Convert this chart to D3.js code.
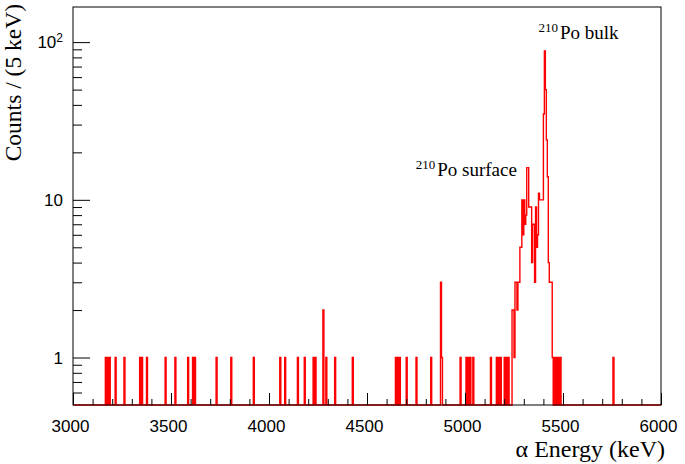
<!DOCTYPE html>
<html>
<head>
<meta charset="utf-8">
<script src="https://cdn.jsdelivr.net/npm/d3@7"></script>
<style>
  html, body { margin: 0; padding: 0; background: #fff; }
  svg { display: block; }
</style>
</head>
<body>
<svg id="chart" width="685" height="464"></svg>
<script>
// ---- data (bin low edges in keV, 5 keV bins; counts) ----
const binWidth = 5;
const xRangeKeV = [3000, 6000];
const yRangeCounts = [0.5, 167];
const binStarts = [
  3165, 3175, 3185, 3215, 3260, 3340, 3350, 3375, 3470, 3520,
  3585, 3610, 3620, 3730, 3805, 3920, 4055, 4080, 4145, 4180,
  4225, 4235, 4275, 4290, 4335, 4425, 4645, 4655, 4665, 4700,
  4750, 4825, 4875, 4880, 4975, 5005, 5015, 5025, 5040, 5130,
  5160, 5170, 5180, 5200, 5210, 5220,
  5240, 5245, 5250, 5255, 5260, 5265, 5270, 5275, 5280, 5285,
  5290, 5295, 5300, 5305, 5310, 5315, 5320, 5325, 5330, 5335,
  5340, 5345, 5350, 5355, 5360, 5365, 5370, 5375, 5380, 5385,
  5390, 5395, 5400, 5405, 5410, 5415, 5420, 5425, 5430, 5435,
  5440, 5445, 5455, 5465, 5475, 5485, 5755
];
const binCounts = [
  1, 1, 1, 1, 1, 1, 1, 1, 1, 1,
  1, 1, 1, 1, 1, 1, 1, 1, 1, 1,
  1, 1, 2, 1, 1, 1, 1, 1, 1, 1,
  1, 1, 3, 1, 1, 1, 1, 1, 1, 1,
  1, 1, 1, 1, 1, 1,
  2, 2, 1, 3, 3, 2, 3, 3, 5, 5,
  10, 6, 10, 7, 8, 16, 16, 9, 9, 9,
  4, 7, 7, 3, 9, 5, 6, 11, 10, 10,
  10, 10, 35, 88, 50, 24, 14, 4, 3, 3,
  3, 1, 1, 1, 1, 1, 1
];
const xTickValues = [3000, 3500, 4000, 4500, 5000, 5500, 6000];
const yMajorTicks = [1, 10, 100];
const yMinorTicks = [0.6, 0.7, 0.8, 0.9, 2, 3, 4, 5, 6, 7, 8, 9, 20, 30, 40, 50, 60, 70, 80, 90];
const xTitle = "α Energy (keV)";
const yTitle = "Counts / (5 keV)";
const annotations = [
  { sup: "210", text: "Po bulk", energy: 5405 },
  { sup: "210", text: "Po surface", energy: 5320 }
];

// ---- layout ----
const svg = d3.select("#chart");
const frame = { left: 73, right: 661, top: 7, bottom: 405 };

const x = d3.scaleLinear().domain(xRangeKeV).range([frame.left, frame.right]);
const y = d3.scaleLog().domain(yRangeCounts).range([frame.bottom, frame.top]);

// full histogram table from sparse data
const nBins = (xRangeKeV[1] - xRangeKeV[0]) / binWidth;
const countByBin = new Map(binStarts.map((s, i) => [s, binCounts[i]]));
const pts = [];
for (let i = 0; i < nBins; i++) {
  const lo = xRangeKeV[0] + i * binWidth;
  const c = countByBin.get(lo) || 0;
  const yy = c > 0 ? y(Math.max(c, yRangeCounts[0])) : y(yRangeCounts[0]);
  pts.push([x(lo), yy]);
  pts.push([x(lo + binWidth), yy]);
}

// histogram
svg.append("path")
  .attr("d", d3.line()(pts))
  .attr("fill", "none")
  .attr("stroke", "#ff0000")
  .attr("stroke-width", 1.4);

// frame
svg.append("rect")
  .attr("x", frame.left).attr("y", frame.top)
  .attr("width", frame.right - frame.left)
  .attr("height", frame.bottom - frame.top)
  .attr("fill", "none").attr("stroke", "#000").attr("stroke-width", 1);

// x axis (ticks inside)
const xMinor = d3.range(3100, 6000, 100).filter(v => v % 500 !== 0);
const xAxis = d3.axisBottom(x).tickValues(xTickValues).tickSize(-12).tickFormat(d3.format("d")).tickPadding(12);
const gx = svg.append("g").attr("transform", `translate(0,${frame.bottom})`).call(xAxis);
gx.select(".domain").remove();
gx.selectAll("text").attr("font-family", "'Liberation Sans', Arial, sans-serif").attr("font-size", 17).attr("fill", "#000").attr("dx", -3).attr("dy", "0.9em");
gx.selectAll("line").attr("stroke", "#000");
const xAxisMinor = d3.axisBottom(x).tickValues(xMinor).tickSize(-6).tickFormat("");
const gxm = svg.append("g").attr("transform", `translate(0,${frame.bottom})`).call(xAxisMinor);
gxm.select(".domain").remove();
gxm.selectAll("line").attr("stroke", "#000");

// y axis (ticks inside)
const yAxis = d3.axisLeft(y).tickValues(yMajorTicks).tickSize(-17).tickFormat("").tickPadding(0);
const gy = svg.append("g").attr("transform", `translate(${frame.left},0)`).call(yAxis);
gy.select(".domain").remove();
gy.selectAll("line").attr("stroke", "#000");
const yAxisMinor = d3.axisLeft(y).tickValues(yMinorTicks).tickSize(-9).tickFormat("");
const gym = svg.append("g").attr("transform", `translate(${frame.left},0)`).call(yAxisMinor);
gym.select(".domain").remove();
gym.selectAll("line").attr("stroke", "#000");

// y tick labels
const ylab = svg.append("g").attr("font-family", "'Liberation Sans', Arial, sans-serif").attr("font-size", 17).attr("fill", "#000");
yMajorTicks.forEach(v => {
  const t = ylab.append("text").attr("x", 63).attr("y", y(v)).attr("dy", "0.36em").attr("text-anchor", "end");
  if (v === 100) {
    t.append("tspan").text("10");
    t.append("tspan").attr("font-size", 12).attr("dy", "-0.55em").text("2");
  } else {
    t.text(String(v));
  }
});

// axis titles
svg.append("text")
  .attr("transform", `translate(21,${frame.top - 3}) rotate(-90)`)
  .attr("text-anchor", "end")
  .attr("font-family", "'Liberation Serif', 'Times New Roman', serif")
  .attr("font-size", 23.5)
  .attr("fill", "#000")
  .text(yTitle);

svg.append("text")
  .attr("x", 665).attr("y", 457)
  .attr("text-anchor", "end")
  .attr("font-family", "'Liberation Serif', 'Times New Roman', serif")
  .attr("font-size", 24)
  .attr("fill", "#000")
  .text(xTitle);

// annotations
const ann = svg.append("g").attr("font-family", "'Liberation Serif', 'Times New Roman', serif").attr("fill", "#000");
function addLabel(a, px, py) {
  const t = ann.append("text").attr("x", px).attr("y", py).attr("font-size", 19);
  t.append("tspan").attr("font-size", 13).attr("dy", "-0.55em").text(a.sup);
  t.append("tspan").attr("dy", "0.38em").attr("dx", 2).text(a.text);
}
addLabel(annotations[0], x(annotations[0].energy) - 6, 39);
addLabel(annotations[1], x(annotations[1].energy) - 112, 176);
</script>
</body>
</html>
